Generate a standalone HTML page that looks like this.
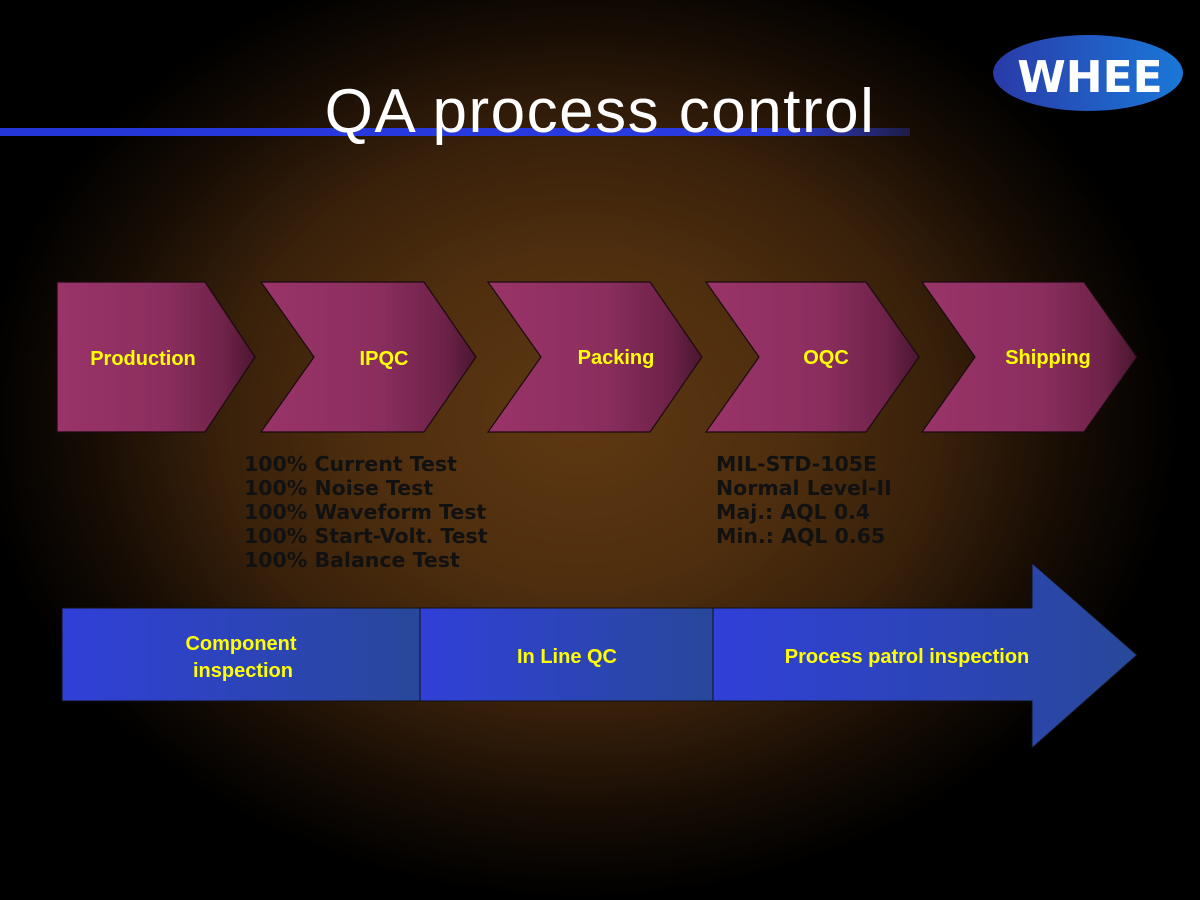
<!DOCTYPE html>
<html><head><style>
html,body{margin:0;padding:0;background:#000}
#s{position:relative;width:1200px;height:900px;overflow:hidden;
background:radial-gradient(ellipse 600px 480px at 580px 420px,#5e3812 0%,#4e2e0e 35%,#38200a 60%,#160c04 82%,#000 100%);
font-family:"Liberation Sans",sans-serif}
.t{position:absolute;font-weight:bold;color:#111;font-family:"DejaVu Sans",sans-serif;font-size:20.5px;line-height:24px}
</style></head><body><div id="s">
<svg width="1200" height="900" style="position:absolute;left:0;top:0">
<defs>
<linearGradient id="ln" x1="0" x2="1"><stop offset="0" stop-color="#2436d8"/><stop offset="0.85" stop-color="#2a3ce0"/><stop offset="1" stop-color="#2a3ce0" stop-opacity="0.3"/></linearGradient>
<linearGradient id="pk" x1="0" x2="1"><stop offset="0" stop-color="#9a3468"/><stop offset="0.55" stop-color="#8a2e5e"/><stop offset="0.85" stop-color="#6e2248"/><stop offset="1" stop-color="#4a1630"/></linearGradient>
<linearGradient id="bl" x1="0" x2="1"><stop offset="0" stop-color="#3040d8"/><stop offset="1" stop-color="#28489a"/></linearGradient>
<linearGradient id="lg" x1="0" x2="1"><stop offset="0" stop-color="#2a3aa8"/><stop offset="1" stop-color="#1a78d8"/></linearGradient>
</defs>
<rect x="0" y="128" width="910" height="8" fill="url(#ln)"/>
<text x="600" y="132" text-anchor="middle" fill="#fff" font-size="62" letter-spacing="1.5" font-family="Liberation Sans, sans-serif">QA process control</text>
<ellipse cx="1088" cy="73" rx="95" ry="38" fill="url(#lg)"/>
<text x="1090" y="92" text-anchor="middle" fill="#fff" font-size="44" font-weight="bold" font-family="DejaVu Sans, sans-serif">WHEE</text>
<g stroke="#1a0a10" stroke-width="1.2" fill="url(#pk)">
<polygon points="57,282 205,282 255,357 205,432 57,432"/>
<polygon points="261,282 424,282 476,357 424,432 261,432 314,357"/>
<polygon points="488,282 650,282 702,357 650,432 488,432 541,357"/>
<polygon points="706,282 866,282 919,357 866,432 706,432 759,357"/>
<polygon points="922,282 1084,282 1137,357 1084,432 922,432 975,357"/>
</g>
<g fill="#ffff00" font-size="20" font-weight="bold" text-anchor="middle" font-family="Liberation Sans, sans-serif">
<text x="143" y="365">Production</text>
<text x="384" y="365">IPQC</text>
<text x="616" y="364">Packing</text>
<text x="826" y="364">OQC</text>
<text x="1048" y="364">Shipping</text>
</g>
<g stroke="#111" stroke-width="1">
<rect x="62" y="608" width="358" height="93" fill="url(#bl)"/>
<rect x="420" y="608" width="293" height="93" fill="url(#bl)"/>
<polygon points="713,608 1032,608 1032,563 1137,655 1032,748 1032,701 713,701" fill="url(#bl)"/>
</g>
<g fill="#ffff00" font-size="20" font-weight="bold" text-anchor="middle" font-family="Liberation Sans, sans-serif">
<text x="241" y="650">Component</text>
<text x="243" y="677">inspection</text>
<text x="567" y="663">In Line QC</text>
<text x="907" y="663">Process patrol inspection</text>
</g>
</svg>
<div class="t" style="left:244px;top:452px">100% Current Test<br>100% Noise Test<br>100% Waveform Test<br>100% Start-Volt. Test<br>100% Balance Test</div>
<div class="t" style="left:716px;top:452px">MIL-STD-105E<br>Normal Level-II<br>Maj.: AQL 0.4<br>Min.: AQL 0.65</div>
</div></body></html>
